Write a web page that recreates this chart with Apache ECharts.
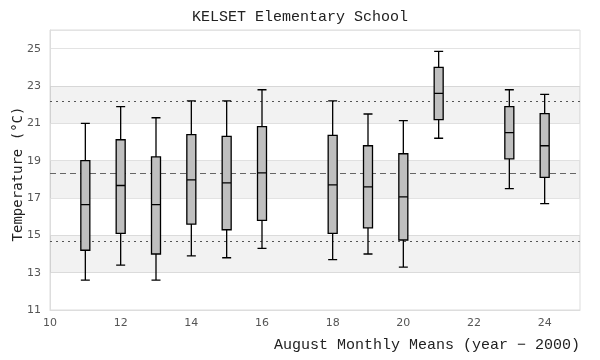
<!DOCTYPE html>
<html><head><meta charset="utf-8">
<script src="https://cdn.jsdelivr.net/npm/echarts@6/dist/echarts.min.js"></script>
<style>html,body{margin:0;padding:0;background:#fff}#c{width:600px;height:360px}</style>
</head><body><div id="c"></div>
<script>
const years = [11, 12, 13, 14, 15, 16, 18, 19, 20, 21, 23, 24];
const lows    = [12.6, 13.4, 12.6, 13.9, 13.8, 14.3, 13.7, 14.0, 13.3, 20.2, 17.5, 16.7];
const q1s     = [14.2, 15.1, 14.0, 15.6, 15.3, 15.8, 15.1, 15.4, 14.75, 21.2, 19.1, 18.1];
const medians = [16.65, 17.67, 16.65, 17.97, 17.81, 18.35, 17.7, 17.6, 17.06, 22.6, 20.5, 19.8];
const q3s     = [19.0, 20.12, 19.2, 20.4, 20.3, 20.82, 20.35, 19.8, 19.37, 24.0, 21.9, 21.52];
const highs   = [21.0, 21.9, 21.3, 22.2, 22.2, 22.8, 22.2, 21.5, 21.15, 24.85, 22.8, 22.55];
const meanLine = 18.35;
const upperLine = 22.2;
const lowerLine = 14.7;
const bands = [[13, 15], [17, 19], [21, 23]];

const boxData = years.map((y, i) => [y, lows[i], q1s[i], medians[i], q3s[i], highs[i]]);
const mono = '"Liberation Mono", "DejaVu Sans Mono", monospace';

const chart = echarts.init(document.getElementById('c'), null, {renderer: 'canvas'});
chart.setOption({
  animation: false,
  backgroundColor: '#fff',
  title: {
    text: 'KELSET Elementary School', left: 'center', top: 5,
    textStyle: {fontFamily: mono, fontSize: 15, fontWeight: 'normal', color: '#222'}
  },
  grid: {left: 50, right: 20, top: 30, bottom: 50, show: true, borderColor: '#ddd', borderWidth: 1,
    containLabel: false, outerBoundsMode: 'none'},
  graphic: [{
    type: 'text', x: 11, y: 174, rotation: Math.PI / 2,
    style: {text: 'Temperature (\u00b0C)', fill: '#222', font: '14px "DejaVu Sans Mono", monospace',
      align: 'center', verticalAlign: 'top'}
  }],
  xAxis: {
    type: 'value', min: 10, max: 25, interval: 2,
    name: 'August Monthly Means (year \u2212 2000)', nameLocation: 'end',
    nameGap: 0,
    nameTextStyle: {fontFamily: mono, fontSize: 15, color: '#222', align: 'right', verticalAlign: 'top', padding: [28, 0, 0, 0]},
    axisLine: {show: true, lineStyle: {color: '#ddd'}},
    axisTick: {show: false},
    splitLine: {show: false},
    axisLabel: {color: '#555', fontSize: 11, fontFamily: 'DejaVu Sans', margin: 8,
      formatter: v => (v <= 24 ? String(v) : '')}
  },
  yAxis: {
    type: 'value', min: 11, max: 26, interval: 2,
    axisLine: {show: true, lineStyle: {color: '#ddd'}},
    axisTick: {show: false},
    splitLine: {show: true, lineStyle: {color: '#e3e3e3'}},
    axisLabel: {color: '#555', fontSize: 11, fontFamily: 'DejaVu Sans', margin: 9,
      formatter: v => (v <= 25 ? String(v) : '')}
  },
  series: [{
    type: 'boxplot',
    data: boxData,
    boxWidth: [9, 9],
    itemStyle: {color: '#bfbfbf', borderColor: '#000', borderWidth: 1.3},
    z: 5,
    markArea: {
      silent: true,
      itemStyle: {color: 'rgba(0,0,0,0.05)'},
      data: bands.map(b => [{yAxis: b[0]}, {yAxis: b[1]}])
    },
    markLine: {
      silent: true, symbol: 'none', label: {show: false},
      data: [
        {yAxis: meanLine, lineStyle: {color: '#666', type: [6, 4], width: 1.2}},
        {yAxis: upperLine, lineStyle: {color: '#555', type: [2, 4], width: 1.2}},
        {yAxis: lowerLine, lineStyle: {color: '#555', type: [2, 4], width: 1.2}}
      ]
    }
  }]
});
</script></body></html>
